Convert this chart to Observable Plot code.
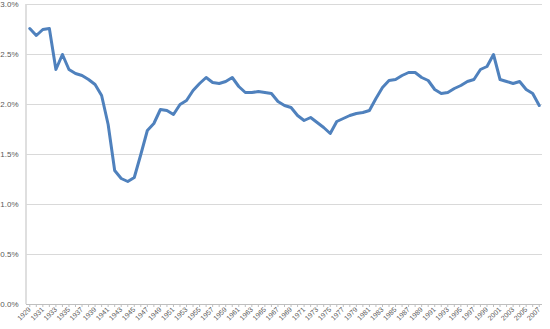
<!DOCTYPE html>
<html>
<head>
<meta charset="utf-8">
<script src="https://cdn.jsdelivr.net/npm/d3@7"></script>
<script src="https://cdn.jsdelivr.net/npm/@observablehq/plot@0.6"></script>
<style>
  html, body { margin: 0; padding: 0; background: #fff; }
  #chart svg { display: block; }
</style>
</head>
<body>
<div id="chart"></div>
<script>
const years = d3.range(1929, 2008);
const values = [
  2.76, 2.69, 2.75, 2.76, 2.35, 2.50, 2.35, 2.31, 2.29, 2.25,
  2.20, 2.09, 1.80, 1.34, 1.26, 1.23, 1.27, 1.50, 1.74, 1.81,
  1.95, 1.94, 1.90, 2.00, 2.04, 2.14, 2.21, 2.27, 2.22, 2.21,
  2.23, 2.27, 2.18, 2.12, 2.12, 2.13, 2.12, 2.11, 2.03, 1.99,
  1.97, 1.89, 1.84, 1.87, 1.82, 1.77, 1.71, 1.83, 1.86, 1.89,
  1.91, 1.92, 1.94, 2.06, 2.17, 2.24, 2.25, 2.29, 2.32, 2.32,
  2.27, 2.24, 2.15, 2.11, 2.12, 2.16, 2.19, 2.23, 2.25, 2.35,
  2.38, 2.50, 2.25, 2.23, 2.21, 2.23, 2.15, 2.11, 1.99
];
const labelYears = years.filter((y, i) => i % 2 === 0);
const yTicks = [0, 0.5, 1, 1.5, 2, 2.5, 3];

const data = years.map((year, i) => ({year, value: values[i]}));

const chart = Plot.plot({
  width: 550,
  height: 329,
  marginLeft: 26,
  marginRight: 8,
  marginTop: 4,
  marginBottom: 25,
  style: {fontFamily: "'Liberation Sans', Arial, sans-serif", background: "#fff"},
  x: {type: "point", domain: years, padding: 0.5, label: null},
  y: {domain: [0, 3], label: null},
  marks: [
    Plot.gridY(yTicks, {stroke: "#d9d9d9", strokeOpacity: 1, strokeWidth: 1}),
    Plot.axisY({ticks: yTicks, tickSize: 0, tickPadding: 8, fontSize: 8, fill: "#595959", label: null,
      tickFormat: d => d.toFixed(1) + "%"}),
    Plot.axisX({ticks: years, tickSize: 3, tickFormat: () => "", stroke: "#bfbfbf", strokeOpacity: 1, label: null}),
    Plot.axisX({ticks: labelYears, tickSize: 0, tickPadding: 4, tickRotate: -45, fontSize: 7, fill: "#595959",
      label: null, tickFormat: d => String(d)}),
    Plot.ruleY([0], {stroke: "#bfbfbf", strokeWidth: 1}),
    Plot.line(data, {x: "year", y: "value", stroke: "#4f81bd", strokeWidth: 3, strokeLinejoin: "round"})
  ]
});

// left axis line
const ys = chart.scale("y");
d3.select(chart).insert("line", ":first-child")
  .attr("x1", 26).attr("x2", 26)
  .attr("y1", ys.apply(3)).attr("y2", ys.apply(0))
  .attr("stroke", "#bfbfbf");

document.getElementById("chart").appendChild(chart);
</script>
</body>
</html>
